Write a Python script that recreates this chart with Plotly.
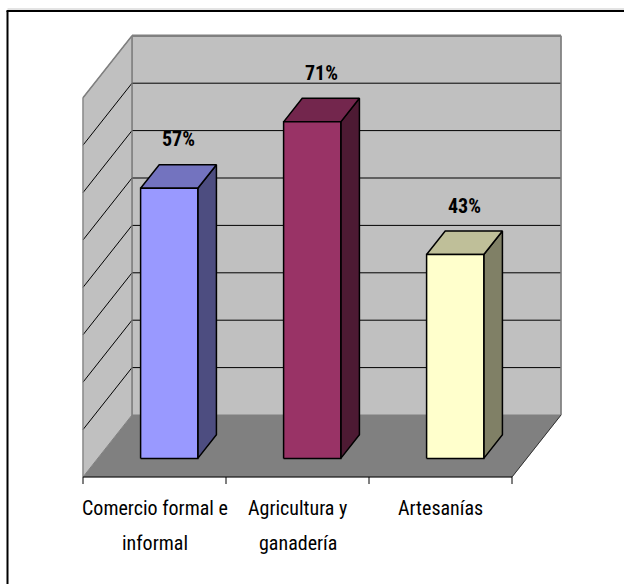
import plotly.graph_objects as go

# ---- data ----
categories = ["Comercio formal e informal", "Agricultura y ganadería", "Artesanías"]
category_lines = [["Comercio formal e", "informal"], ["Agricultura y", "ganadería"], ["Artesanías"]]
values = [0.57, 0.71, 0.43]
value_labels = ["57%", "71%", "43%"]
grid_values = [0.1, 0.2, 0.3, 0.4, 0.5, 0.6, 0.7]
axis_max = 0.8

front_colors = ["#9999FF", "#993366", "#FFFFCC"]
top_colors = ["#7373BF", "#73264D", "#BFBF99"]
side_colors = ["#4D4D80", "#4D1A33", "#808066"]

# ---- oblique projection (axis units) ----
DX, DY = 0.3427, 0.1308   # full depth offset of the walls
D0, D1 = 0.30, 0.68       # bar depth span
BW = 0.4                  # bar width (category units)
N = len(values)

FONT = "Liberation Sans Narrow, Arial Narrow, Roboto Condensed, Roboto, Liberation Sans, Arial, sans-serif"


def P(cx, v, d):
    return (cx + d * DX, v + d * DY)


fig = go.Figure()


def poly(pts, fill, line_color="black", lw=0.0):
    xs = [p[0] for p in pts] + [pts[0][0]]
    ys = [p[1] for p in pts] + [pts[0][1]]
    fig.add_trace(go.Scatter(x=xs, y=ys, mode="lines", fill="toself", fillcolor=fill,
                             line=dict(color=line_color, width=lw),
                             hoverinfo="skip", showlegend=False))


def seg(a, b, color="black", lw=1.0):
    fig.add_trace(go.Scatter(x=[a[0], b[0]], y=[a[1], b[1]], mode="lines",
                             line=dict(color=color, width=lw),
                             hoverinfo="skip", showlegend=False))


# walls and floor
poly([P(0, 0, 0), P(N, 0, 0), P(N, 0, 1), P(0, 0, 1)], "#808080", "#808080", 0.5)
poly([P(0, 0, 1), P(N, 0, 1), P(N, axis_max, 1), P(0, axis_max, 1)], "#C0C0C0", "#808080", 1)
poly([P(0, 0, 0), P(0, 0, 1), P(0, axis_max, 1), P(0, axis_max, 0)], "#C0C0C0", "#808080", 1)

# gridlines
for g in grid_values:
    seg(P(0, g, 1), P(N, g, 1), "black", 1)
    seg(P(0, g, 0), P(0, g, 1), "black", 1)

# wall edges
seg(P(0, axis_max, 1), P(N, axis_max, 1), "#808080", 2.5)
seg(P(0, axis_max, 0), P(0, axis_max, 1), "#808080", 1.5)
seg(P(N, 0, 1), P(N, axis_max, 1), "#808080", 1.5)
seg(P(0, 0, 0), P(0, axis_max, 0), "#909090", 1.2)
seg(P(0, 0, 1), P(0, axis_max, 1), "#808080", 1.2)
seg(P(N, 0, 0), P(N, 0, 1), "#303030", 1)

# bars
for i, v in enumerate(values):
    c0 = i + 0.5 - BW / 2
    c1 = i + 0.5 + BW / 2
    poly([P(c1, 0, D0), P(c1, 0, D1), P(c1, v, D1), P(c1, v, D0)], side_colors[i], "black", 1.5)
    poly([P(c0, v, D0), P(c1, v, D0), P(c1, v, D1), P(c0, v, D1)], top_colors[i], "black", 1.5)
    poly([P(c0, 0, D0), P(c1, 0, D0), P(c1, v, D0), P(c0, v, D0)], front_colors[i], "black", 1.5)
    lx, ly = P(i + 0.5, v, (D0 + D1) / 2)
    fig.add_annotation(x=lx, y=ly, text="<b>" + value_labels[i] + "</b>", showarrow=False,
                       yshift=37, font=dict(family=FONT, size=20, color="black"))

# category axis
seg(P(0, 0, 0), P(N, 0, 0), "black", 1)
TICK = -0.0148
for k in range(N + 1):
    seg((k, 0), (k, TICK), "black", 1)

for i, lines in enumerate(category_lines):
    for j, t in enumerate(lines):
        fig.add_annotation(x=i + 0.5, y=0, text=t, showarrow=False, yanchor="middle",
                           yshift=-31 - 35 * j, font=dict(family=FONT, size=20, color="black"))

# chart frame (left and top edges visible)
fig.add_shape(type="line", xref="paper", yref="paper", x0=7.5 / 624, x1=1.0,
              y0=1 - 9 / 584, y1=1 - 9 / 584, line=dict(color="#C8C8C8", width=1))
fig.add_shape(type="line", xref="paper", yref="paper", x0=7.5 / 624, x1=7.5 / 624,
              y0=0, y1=1 - 11 / 584, line=dict(color="black", width=2))
fig.add_shape(type="line", xref="paper", yref="paper", x0=6.5 / 624, x1=1.0,
              y0=1 - 11 / 584, y1=1 - 11 / 584, line=dict(color="black", width=2))

fig.update_layout(
    width=624, height=584,
    margin=dict(l=0, r=0, t=0, b=0),
    paper_bgcolor="white", plot_bgcolor="white",
    xaxis=dict(range=[-83 / 143, (624 - 83) / 143], visible=False, fixedrange=True),
    yaxis=dict(range=[(477 - 584) / 474, 477 / 474], visible=False, fixedrange=True),
    showlegend=False,
)

fig.write_html("out.html")
